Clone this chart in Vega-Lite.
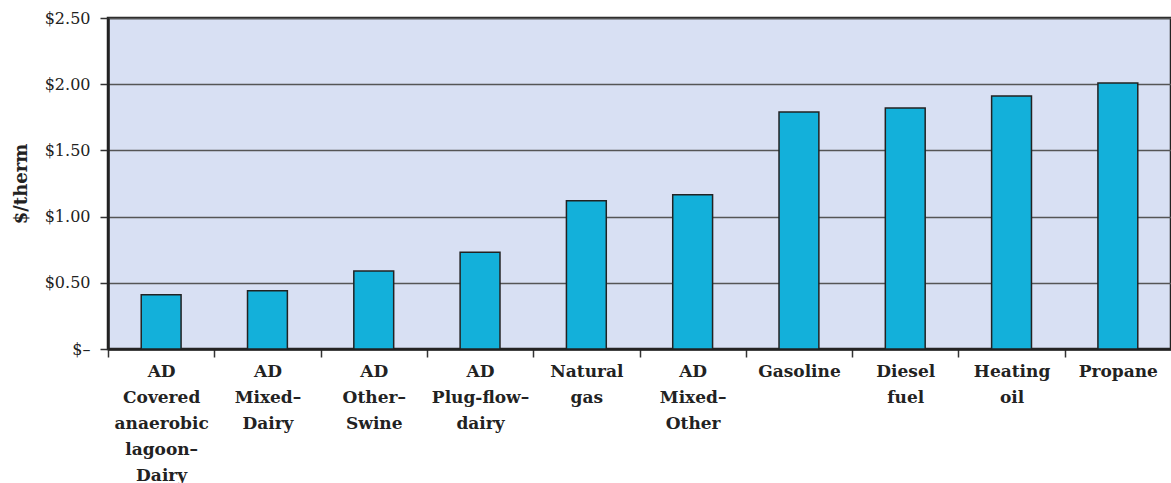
{
  "$schema": "https://vega.github.io/schema/vega-lite/v6.json",
  "width": 1063,
  "height": 331,
  "autosize": {"type": "none"},
  "padding": {"left": 108, "top": 18, "right": 0, "bottom": 134},
  "background": "#ffffff",
  "config": {
    "view": {"fill": "#d8e0f3", "stroke": "#222222", "strokeWidth": 2.5},
    "font": "DejaVu Serif"
  },
  "data": {
    "values": [
      {"fuel": "AD|Covered|anaerobic|lagoon–|Dairy", "cost": 0.41},
      {"fuel": "AD|Mixed–|Dairy", "cost": 0.44},
      {"fuel": "AD|Other–|Swine", "cost": 0.59},
      {"fuel": "AD|Plug-flow–|dairy", "cost": 0.73},
      {"fuel": "Natural|gas", "cost": 1.12},
      {"fuel": "AD|Mixed–|Other", "cost": 1.165},
      {"fuel": "Gasoline", "cost": 1.79},
      {"fuel": "Diesel|fuel", "cost": 1.82},
      {"fuel": "Heating|oil", "cost": 1.91},
      {"fuel": "Propane", "cost": 2.01}
    ]
  },
  "mark": {"type": "bar", "color": "#13b0da", "stroke": "#222222", "strokeWidth": 1.5},
  "encoding": {
    "x": {
      "field": "fuel",
      "type": "nominal",
      "sort": null,
      "scale": {"paddingInner": 0.625, "paddingOuter": 0.3125},
      "axis": {
        "orient": "bottom",
        "title": null,
        "ticks": true,
        "tickOffset": -53.15,
        "labelOffset": 53.15,
        "tickSize": 8,
        "tickColor": "#333333",
        "tickWidth": 1.5,
        "domain": true,
        "domainColor": "#222222",
        "domainWidth": 2.5,
        "labelAngle": 0,
        "labelExpr": "split(datum.label, '|')",
        "labelFont": "DejaVu Serif",
        "labelFontWeight": "bold",
        "labelFontSize": 17,
        "labelColor": "#222222",
        "labelLineHeight": 26,
        "labelPadding": 6,
        "labelBaseline": "top",
        "labelLimit": 0
      }
    },
    "y": {
      "field": "cost",
      "type": "quantitative",
      "scale": {"domain": [0, 2.5]},
      "axis": {
        "title": "$/therm",
        "titleFont": "DejaVu Serif",
        "titleFontWeight": "bold",
        "titleFontSize": 18,
        "titleColor": "#222222",
        "titlePadding": 14,
        "values": [0, 0.5, 1, 1.5, 2, 2.5],
        "labelExpr": "datum.value == 0 ? '$–' : '$' + format(datum.value, '.2f')",
        "labelFont": "DejaVu Serif",
        "labelFontSize": 16,
        "labelColor": "#222222",
        "labelPadding": 10,
        "tickSize": 8,
        "tickColor": "#333333",
        "tickWidth": 1.5,
        "domainColor": "#222222",
        "domainWidth": 2.5,
        "grid": true,
        "gridColor": "#555555",
        "gridWidth": 1.5
      }
    }
  }
}
